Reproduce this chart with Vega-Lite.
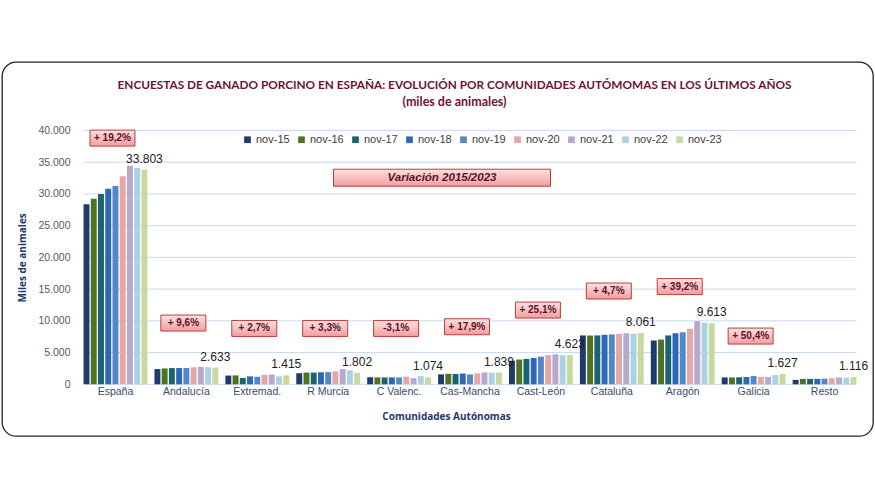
{
  "$schema": "https://vega.github.io/schema/vega-lite/v6.json",
  "width": 871,
  "height": 374,
  "autosize": {"type": "none"},
  "padding": {"left": 2, "top": 62, "right": 2, "bottom": 64},
  "background": "white",
  "config": {
    "locale": {"number": {"decimal": ",", "thousands": ".", "grouping": [3], "currency": ["", " €"]}},
    "view": {"stroke": "#222222", "strokeWidth": 1.3, "cornerRadius": 14, "fill": "white"},
    "font": "Liberation Sans"
  },
  "title": {
    "text": "ENCUESTAS DE GANADO PORCINO EN ESPAÑA: EVOLUCIÓN POR COMUNIDADES AUTÓMOMAS EN LOS ÚLTIMOS AÑOS",
    "subtitle": "(miles de animales)",
    "anchor": "middle",
    "frame": "group",
    "offset": -46,
    "dx": 17,
    "font": "Lato",
    "fontSize": 11.8,
    "fontWeight": "bold",
    "color": "#6E1232",
    "subtitleFont": "Lato",
    "subtitleFontSize": 12.5,
    "subtitleFontWeight": "bold",
    "subtitleColor": "#6E1232",
    "subtitlePadding": 4
  },
  "datasets": {
    "bars": [
      {"region": "España", "year": "nov-15", "value": 28367},
      {"region": "España", "year": "nov-16", "value": 29232},
      {"region": "España", "year": "nov-17", "value": 30002},
      {"region": "España", "year": "nov-18", "value": 30804},
      {"region": "España", "year": "nov-19", "value": 31246},
      {"region": "España", "year": "nov-20", "value": 32796},
      {"region": "España", "year": "nov-21", "value": 34454},
      {"region": "España", "year": "nov-22", "value": 34074},
      {"region": "España", "year": "nov-23", "value": 33803},
      {"region": "Andalucía", "year": "nov-15", "value": 2402},
      {"region": "Andalucía", "year": "nov-16", "value": 2500},
      {"region": "Andalucía", "year": "nov-17", "value": 2550},
      {"region": "Andalucía", "year": "nov-18", "value": 2560},
      {"region": "Andalucía", "year": "nov-19", "value": 2570},
      {"region": "Andalucía", "year": "nov-20", "value": 2680},
      {"region": "Andalucía", "year": "nov-21", "value": 2750},
      {"region": "Andalucía", "year": "nov-22", "value": 2690},
      {"region": "Andalucía", "year": "nov-23", "value": 2633},
      {"region": "Extremad.", "year": "nov-15", "value": 1378},
      {"region": "Extremad.", "year": "nov-16", "value": 1400},
      {"region": "Extremad.", "year": "nov-17", "value": 1000},
      {"region": "Extremad.", "year": "nov-18", "value": 1250},
      {"region": "Extremad.", "year": "nov-19", "value": 1200},
      {"region": "Extremad.", "year": "nov-20", "value": 1480},
      {"region": "Extremad.", "year": "nov-21", "value": 1550},
      {"region": "Extremad.", "year": "nov-22", "value": 1250},
      {"region": "Extremad.", "year": "nov-23", "value": 1415},
      {"region": "R Murcia", "year": "nov-15", "value": 1744},
      {"region": "R Murcia", "year": "nov-16", "value": 1850},
      {"region": "R Murcia", "year": "nov-17", "value": 1850},
      {"region": "R Murcia", "year": "nov-18", "value": 1900},
      {"region": "R Murcia", "year": "nov-19", "value": 1920},
      {"region": "R Murcia", "year": "nov-20", "value": 2050},
      {"region": "R Murcia", "year": "nov-21", "value": 2400},
      {"region": "R Murcia", "year": "nov-22", "value": 2200},
      {"region": "R Murcia", "year": "nov-23", "value": 1802},
      {"region": "C Valenc.", "year": "nov-15", "value": 1108},
      {"region": "C Valenc.", "year": "nov-16", "value": 1090},
      {"region": "C Valenc.", "year": "nov-17", "value": 1080},
      {"region": "C Valenc.", "year": "nov-18", "value": 1090},
      {"region": "C Valenc.", "year": "nov-19", "value": 1080},
      {"region": "C Valenc.", "year": "nov-20", "value": 1200},
      {"region": "C Valenc.", "year": "nov-21", "value": 960},
      {"region": "C Valenc.", "year": "nov-22", "value": 1300},
      {"region": "C Valenc.", "year": "nov-23", "value": 1074},
      {"region": "Cas-Mancha", "year": "nov-15", "value": 1560},
      {"region": "Cas-Mancha", "year": "nov-16", "value": 1650},
      {"region": "Cas-Mancha", "year": "nov-17", "value": 1620},
      {"region": "Cas-Mancha", "year": "nov-18", "value": 1700},
      {"region": "Cas-Mancha", "year": "nov-19", "value": 1560},
      {"region": "Cas-Mancha", "year": "nov-20", "value": 1720},
      {"region": "Cas-Mancha", "year": "nov-21", "value": 1860},
      {"region": "Cas-Mancha", "year": "nov-22", "value": 1820},
      {"region": "Cas-Mancha", "year": "nov-23", "value": 1839},
      {"region": "Cast-León", "year": "nov-15", "value": 3696},
      {"region": "Cast-León", "year": "nov-16", "value": 3900},
      {"region": "Cast-León", "year": "nov-17", "value": 4000},
      {"region": "Cast-León", "year": "nov-18", "value": 4150},
      {"region": "Cast-León", "year": "nov-19", "value": 4350},
      {"region": "Cast-León", "year": "nov-20", "value": 4600},
      {"region": "Cast-León", "year": "nov-21", "value": 4720},
      {"region": "Cast-León", "year": "nov-22", "value": 4600},
      {"region": "Cast-León", "year": "nov-23", "value": 4623},
      {"region": "Cataluña", "year": "nov-15", "value": 7699},
      {"region": "Cataluña", "year": "nov-16", "value": 7680},
      {"region": "Cataluña", "year": "nov-17", "value": 7700},
      {"region": "Cataluña", "year": "nov-18", "value": 7800},
      {"region": "Cataluña", "year": "nov-19", "value": 7850},
      {"region": "Cataluña", "year": "nov-20", "value": 7950},
      {"region": "Cataluña", "year": "nov-21", "value": 8050},
      {"region": "Cataluña", "year": "nov-22", "value": 7980},
      {"region": "Cataluña", "year": "nov-23", "value": 8061},
      {"region": "Aragón", "year": "nov-15", "value": 6906},
      {"region": "Aragón", "year": "nov-16", "value": 7050},
      {"region": "Aragón", "year": "nov-17", "value": 7700},
      {"region": "Aragón", "year": "nov-18", "value": 8050},
      {"region": "Aragón", "year": "nov-19", "value": 8200},
      {"region": "Aragón", "year": "nov-20", "value": 8750},
      {"region": "Aragón", "year": "nov-21", "value": 9950},
      {"region": "Aragón", "year": "nov-22", "value": 9700},
      {"region": "Aragón", "year": "nov-23", "value": 9613},
      {"region": "Galicia", "year": "nov-15", "value": 1082},
      {"region": "Galicia", "year": "nov-16", "value": 1080},
      {"region": "Galicia", "year": "nov-17", "value": 1100},
      {"region": "Galicia", "year": "nov-18", "value": 1150},
      {"region": "Galicia", "year": "nov-19", "value": 1300},
      {"region": "Galicia", "year": "nov-20", "value": 1150},
      {"region": "Galicia", "year": "nov-21", "value": 1150},
      {"region": "Galicia", "year": "nov-22", "value": 1450},
      {"region": "Galicia", "year": "nov-23", "value": 1627},
      {"region": "Resto", "year": "nov-15", "value": 700},
      {"region": "Resto", "year": "nov-16", "value": 850},
      {"region": "Resto", "year": "nov-17", "value": 850},
      {"region": "Resto", "year": "nov-18", "value": 860},
      {"region": "Resto", "year": "nov-19", "value": 880},
      {"region": "Resto", "year": "nov-20", "value": 950},
      {"region": "Resto", "year": "nov-21", "value": 1080},
      {"region": "Resto", "year": "nov-22", "value": 1050},
      {"region": "Resto", "year": "nov-23", "value": 1116}
    ],
    "ann": [
      {"region": "España", "pos": 38800, "label": "+ 19,2%"},
      {"region": "Andalucía", "pos": 9650, "label": "+ 9,6%"},
      {"region": "Extremad.", "pos": 8800, "label": "+ 2,7%"},
      {"region": "R Murcia", "pos": 8800, "label": "+ 3,3%"},
      {"region": "C Valenc.", "pos": 8800, "label": "-3,1%"},
      {"region": "Cas-Mancha", "pos": 9070, "label": "+ 17,9%"},
      {"region": "Cast-León", "pos": 11700, "label": "+ 25,1%"},
      {"region": "Cataluña", "pos": 14700, "label": "+ 4,7%"},
      {"region": "Aragón", "pos": 15400, "label": "+ 39,2%"},
      {"region": "Galicia", "pos": 7600, "label": "+ 50,4%"}
    ],
    "note": [
      {"region": "Cas-Mancha", "pos": 32560, "label": "Variación 2015/2023"}
    ],
    "grid": [
      {"g": 0}, {"g": 5000}, {"g": 10000}, {"g": 15000}, {"g": 20000},
      {"g": 25000}, {"g": 30000}, {"g": 35000}, {"g": 40000}
    ]
  },
  "layer": [
    {
      "data": {"name": "grid"},
      "mark": {"type": "rule", "color": "#C9DAEE", "strokeWidth": 1},
      "encoding": {
        "y": {"field": "g", "type": "quantitative", "title": "Miles de animales",
              "scale": {"domain": [0, 40000], "range": [322.3, 68.5], "nice": false}},
        "x": {"datum": "España", "type": "nominal", "bandPosition": 0, "title": "Comunidades Autónomas"},
        "x2": {"datum": "Resto", "bandPosition": 1}
      }
    },
    {
      "data": {"name": "bars"},
      "mark": {"type": "bar"},
      "encoding": {
        "x": {
          "field": "region", "type": "nominal", "title": "Comunidades Autónomas",
          "scale": {
            "domain": ["España", "Andalucía", "Extremad.", "R Murcia", "C Valenc.", "Cas-Mancha", "Cast-León", "Cataluña", "Aragón", "Galicia", "Resto"],
            "range": [78, 858], "paddingInner": 0.1, "paddingOuter": 0.05
          },
          "axis": {
            "orient": "bottom", "offset": -50, "bandPosition": 0.5,
            "domain": false, "ticks": false, "grid": false, "labelAngle": 0,
            "labelAlign": "center",
            "labelPadding": 5, "labelFontSize": 10.5, "labelColor": "#3A4A6B",
            "titleFontSize": 10, "titleFontWeight": "bold", "titleColor": "#1F3864",
            "titlePadding": 15, "titleX": 444, "titleFont": "Open Sans"
          }
        },
        "xOffset": {"field": "year", "type": "nominal", "scale": {"paddingInner": 0.18}},
        "y": {
          "field": "value", "type": "quantitative", "title": "Miles de animales",
          "scale": {"domain": [0, 40000], "range": [322.3, 68.5], "nice": false},
          "axis": {
            "orient": "left", "offset": -71,
            "values": [0, 5000, 10000, 15000, 20000, 25000, 30000, 35000, 40000],
            "format": ",d", "domain": false, "ticks": false, "grid": false,
            "labelPadding": 3, "labelFontSize": 10.5, "labelColor": "#595959",
            "titleFontSize": 10, "titleFontWeight": "bold", "titleColor": "#1F3864",
            "titlePadding": 10, "titleFont": "Open Sans"
          }
        },
        "color": {
          "field": "year", "type": "nominal",
          "scale": {
            "domain": ["nov-15", "nov-16", "nov-17", "nov-18", "nov-19", "nov-20", "nov-21", "nov-22", "nov-23"],
            "range": ["#1F3B6B", "#4E7423", "#1A6370", "#2E67B8", "#5387C8", "#E3A7A7", "#B7A8CC", "#ABD2E2", "#C6D99E"]
          },
          "legend": {
            "title": null, "orient": "none", "legendX": 240, "legendY": 72,
            "direction": "horizontal", "columns": 9, "symbolType": "square",
            "symbolSize": 45, "symbolStrokeWidth": 0, "labelFontSize": 11,
            "labelColor": "#404040", "labelOffset": 3, "columnPadding": 6, "padding": 0
          }
        }
      }
    },
    {
      "data": {"name": "bars"},
      "transform": [{"filter": "datum.year === 'nov-23'"}],
      "mark": {"type": "text", "baseline": "middle", "align": "center", "dy": -11, "fontSize": 12, "color": "#222222"},
      "encoding": {
        "x": {"field": "region", "type": "nominal", "title": "Comunidades Autónomas"},
        "xOffset": {"field": "year", "type": "nominal"},
        "y": {"field": "value", "type": "quantitative", "title": "Miles de animales"},
        "text": {"field": "value", "type": "quantitative", "format": ",d"}
      }
    },
    {
      "data": {"name": "ann"},
      "mark": {
        "type": "rect", "width": 45, "height": 16, "xOffset": -3,
        "stroke": "#B8403C", "strokeWidth": 1,
        "fill": {"gradient": "linear", "x1": 0, "y1": 0, "x2": 0, "y2": 1,
                 "stops": [{"offset": 0, "color": "#FCE0E0"}, {"offset": 1, "color": "#F29E9E"}]}
      },
      "encoding": {
        "x": {"field": "region", "type": "nominal", "title": "Comunidades Autónomas"},
        "y": {"field": "pos", "type": "quantitative", "title": "Miles de animales"}
      }
    },
    {
      "data": {"name": "ann"},
      "mark": {"type": "text", "xOffset": -3, "fontSize": 10, "fontWeight": "bold", "color": "#5C0F2B", "baseline": "middle"},
      "encoding": {
        "x": {"field": "region", "type": "nominal", "title": "Comunidades Autónomas"},
        "y": {"field": "pos", "type": "quantitative", "title": "Miles de animales"},
        "text": {"field": "label"}
      }
    },
    {
      "data": {"name": "note"},
      "mark": {
        "type": "rect", "width": 217, "height": 17, "xOffset": -28,
        "stroke": "#B8403C", "strokeWidth": 1,
        "fill": {"gradient": "linear", "x1": 0, "y1": 0, "x2": 0, "y2": 1,
                 "stops": [{"offset": 0, "color": "#FCE0E0"}, {"offset": 1, "color": "#F29E9E"}]}
      },
      "encoding": {
        "x": {"field": "region", "type": "nominal", "title": "Comunidades Autónomas"},
        "y": {"field": "pos", "type": "quantitative", "title": "Miles de animales"}
      }
    },
    {
      "data": {"name": "note"},
      "mark": {"type": "text", "xOffset": -28, "fontSize": 11.5, "fontWeight": "bold", "fontStyle": "italic", "color": "#5C0F2B", "baseline": "middle"},
      "encoding": {
        "x": {"field": "region", "type": "nominal", "title": "Comunidades Autónomas"},
        "y": {"field": "pos", "type": "quantitative", "title": "Miles de animales"},
        "text": {"field": "label"}
      }
    }
  ]
}
